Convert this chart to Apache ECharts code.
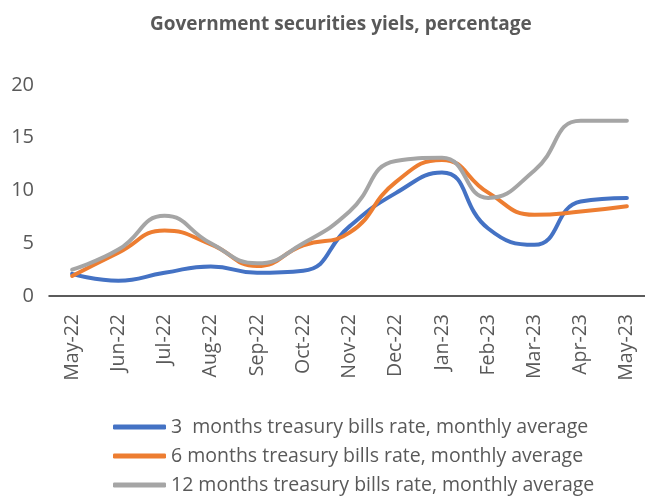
<!DOCTYPE html>
<html>
<head>
<meta charset="utf-8">
<script src="https://cdn.jsdelivr.net/npm/echarts@6/dist/echarts.min.js"></script>
<style>
  html, body { margin: 0; padding: 0; background: #fff; }
  #chart { width: 645px; height: 498px; }
</style>
</head>
<body>
<div id="chart"></div>
<script>
// Monthly categories on the x axis
const months = ['May-22', 'Jun-22', 'Jul-22', 'Aug-22', 'Sep-22', 'Oct-22', 'Nov-22',
                'Dec-22', 'Jan-23', 'Feb-23', 'Mar-23', 'Apr-23', 'May-23'];

// Treasury bill yields, monthly averages (%)
const bills3m  = [2.1, 1.45, 2.2, 2.8, 2.2, 2.4, 6.6, 9.75, 11.7, 6.4, 4.85, 8.95, 9.3];
const bills6m  = [1.9, 4.1, 6.2, 4.9, 2.85, 4.8, 6.0, 10.8, 12.9, 9.8, 7.7, 8.0, 8.5];
const bills12m = [2.5, 4.4, 7.6, 5.0, 3.1, 5.0, 8.0, 12.8, 13.1, 9.3, 11.9, 16.6, 16.6];

// Y-axis scale
const yMin = 0, yMax = 20, yStep = 5;

const seriesNames = [
  '3  months treasury bills rate, monthly average',
  '6 months treasury bills rate, monthly average',
  '12 months treasury bills rate, monthly average'
];
const colors = ['#4472C4', '#ED7D31', '#A5A5A5'];
const FONT = 'Open Sans';
const TEXT = '#595959';

const chart = echarts.init(document.getElementById('chart'), null, { renderer: 'canvas' });

function lineSeries(name, data, color) {
  return {
    name: name,
    type: 'line',
    data: data,
    smooth: 0.5,
    symbol: 'none',
    lineStyle: { width: 4, color: color, cap: 'round' },
    itemStyle: { color: color }
  };
}

chart.setOption({
  animation: false,
  backgroundColor: '#fff',
  title: {
    text: 'Government securities yiels, percentage',
    left: 145,
    top: 10,
    textStyle: { fontFamily: FONT, fontSize: 19, fontWeight: 'bold', color: TEXT }
  },
  legend: {
    orient: 'vertical',
    left: 108,
    top: 411,
    height: 90,
    itemWidth: 53,
    itemHeight: 5,
    itemGap: 7,
    icon: 'roundRect',
    textStyle: { fontFamily: FONT, fontSize: 19.5, color: TEXT, lineHeight: 22 },
    data: seriesNames.map((n, i) => ({ name: n, itemStyle: { color: colors[i] } }))
  },
  grid: {
    left: 49,
    right: -5,
    top: 85,
    bottom: 202,
    outerBoundsMode: 'none'
  },
  xAxis: {
    type: 'category',
    data: months,
    boundaryGap: true,
    axisLine: { lineStyle: { color: '#262626', width: 1.5 } },
    axisTick: { show: false },
    axisLabel: {
      rotate: 90,
      margin: 18,
      interval: 0,
      fontFamily: FONT,
      fontSize: 19.5,
      color: TEXT
    },
    splitLine: { show: false }
  },
  yAxis: {
    type: 'value',
    min: yMin,
    max: yMax,
    interval: yStep,
    axisLine: { show: false },
    axisTick: { show: false },
    splitLine: { show: false },
    axisLabel: { margin: 15, fontFamily: FONT, fontSize: 20, color: TEXT }
  },
  series: [
    lineSeries(seriesNames[0], bills3m, colors[0]),
    lineSeries(seriesNames[1], bills6m, colors[1]),
    lineSeries(seriesNames[2], bills12m, colors[2])
  ]
});
</script>
</body>
</html>
